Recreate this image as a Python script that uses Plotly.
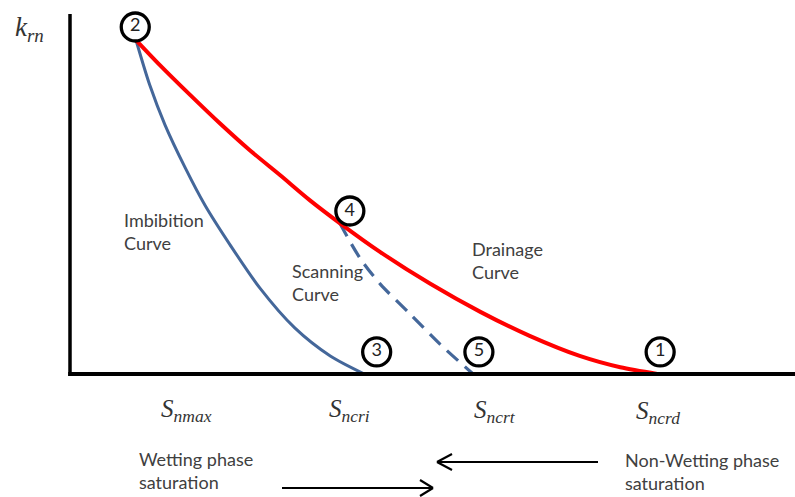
import plotly.graph_objects as go

# Non-wetting saturation (% of span) and relative permeability k_rn for each curve
sat_drain = [9.1, 12.4, 16.6, 20.7, 24.8, 29.0, 33.1, 37.2, 42.8, 49.7, 56.6, 63.4, 70.3, 75.9, 81.0]
krn_drain = [1.0, 0.925, 0.835, 0.75, 0.67, 0.595, 0.52, 0.452, 0.365, 0.27, 0.186, 0.114, 0.054, 0.02, 0.0]

sat_imb = [9.1, 11.0, 13.1, 15.9, 18.6, 22.1, 26.2, 31.0, 35.9, 40.6]
krn_imb = [1.0, 0.865, 0.746, 0.617, 0.506, 0.386, 0.257, 0.138, 0.054, 0.0]

sat_scan = [37.2, 40.0, 42.8, 46.9, 51.0, 55.6]
krn_scan = [0.452, 0.347, 0.269, 0.180, 0.090, 0.0]

# Numbered state points
point_ids = ["2", "4", "3", "5", "1"]
point_sat = [9.0, 38.6, 42.3, 56.4, 81.4]
point_krn = [1.039, 0.488, 0.066, 0.066, 0.066]

# Saturation labels under the axis
sat_labels = ["<i>S</i><sub><i>nmax</i></sub>", "<i>S</i><sub><i>ncri</i></sub>",
              "<i>S</i><sub><i>ncrt</i></sub>", "<i>S</i><sub><i>ncrd</i></sub>"]

W, H = 795, 497
RED = "#ff0000"
BLUE = "#44679a"
TXT = "#404040"
SANS = "Lato, 'Open Sans', sans-serif"
SERIF = "'Liberation Serif', 'DejaVu Serif', serif"


def fx(p):
    return p / W


def fy(p):
    return 1 - p / H


fig = go.Figure()

fig.add_trace(go.Scatter(x=sat_imb, y=krn_imb, mode="lines",
                         line=dict(color=BLUE, width=3, shape="spline", smoothing=0.8)))
fig.add_trace(go.Scatter(x=sat_scan, y=krn_scan, mode="lines",
                         line=dict(color=BLUE, width=3.2, dash="15px,9px", shape="spline", smoothing=0.8)))
fig.add_trace(go.Scatter(x=sat_drain, y=krn_drain, mode="lines",
                         line=dict(color=RED, width=4, shape="spline", smoothing=0.8)))

# Axes drawn as heavy black lines
fig.add_trace(go.Scatter(x=[0, 0], y=[-0.006, 1.078], mode="lines",
                         line=dict(color="black", width=3.5)))
fig.add_trace(go.Scatter(x=[-0.25, 100], y=[0, 0], mode="lines",
                         line=dict(color="black", width=4)))

fig.add_trace(go.Scatter(x=point_sat, y=point_krn, mode="markers+text", text=point_ids,
                         textposition="middle center",
                         textfont=dict(family=SANS, size=18, color="#222222"),
                         marker=dict(size=28, color="white", line=dict(color="black", width=3.3))))

annotations = []


def note(text, x, y, size=18, family=SANS, xanchor="left", color=TXT):
    annotations.append(dict(text=text, x=fx(x), y=fy(y), xref="paper", yref="paper",
                            xanchor=xanchor, yanchor="middle", showarrow=False,
                            font=dict(family=family, size=size, color=color)))


note("<i>k</i><sub><i>rn</i></sub>", 13, 29, size=27, family=SERIF, color="#333333")
for lab, cx, cy in zip(sat_labels, [186, 349, 495, 658], [410, 410, 411, 412]):
    note(lab, cx, cy, size=25, family=SERIF, xanchor="center", color="#333333")

note("Imbibition", 122, 220)
note("Curve", 122, 243)
note("Scanning", 290, 271)
note("Curve", 290, 294)
note("Drainage", 470, 249)
note("Curve", 470, 272)
note("Wetting phase", 137, 459)
note("saturation", 137, 482)
note("Non-Wetting phase", 623, 460)
note("saturation", 623, 483)

shapes = []


def seg(x0, y0, x1, y1):
    shapes.append(dict(type="line", xref="paper", yref="paper",
                       x0=fx(x0), y0=fy(y0), x1=fx(x1), y1=fy(y1),
                       line=dict(color="black", width=2.2)))


# Arrow pointing left
seg(437, 462, 598, 462)
seg(437, 462, 452, 454)
seg(437, 462, 452, 470)
# Arrow pointing right
seg(282, 488, 433, 488)
seg(433, 488, 420, 480)
seg(433, 488, 420, 496)

fig.update_layout(
    width=W, height=H,
    margin=dict(l=0, r=0, t=0, b=0),
    paper_bgcolor="white", plot_bgcolor="white",
    showlegend=False,
    xaxis=dict(visible=False, range=[-9.655, 100], fixedrange=True),
    yaxis=dict(visible=False, range=[-0.3683, 1.1198], fixedrange=True),
    annotations=annotations,
    shapes=shapes,
)

fig.write_html("out.html")
